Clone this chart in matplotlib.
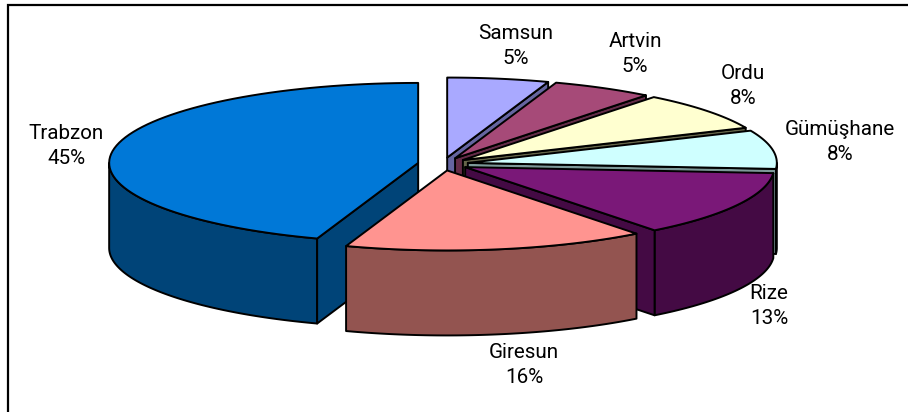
import numpy as np
import matplotlib
matplotlib.use("Agg")
import matplotlib.pyplot as plt

plt.rcParams["font.family"] = ["Roboto", "Liberation Sans", "DejaVu Sans"]

# clockwise from 12 o'clock
names = ["Samsun", "Artvin", "Ordu", "Gümüşhane", "Rize", "Giresun", "Trabzon"]
shares = [5.3, 5.3, 7.8, 7.8, 13.3, 15.8, 44.7]
labels = ["5%", "5%", "8%", "8%", "13%", "16%", "45%"]
top_colors = ["#A9A9FF", "#A64A78", "#FFFFD0", "#CFFFFF", "#7A1878", "#FF9490", "#0078D7"]
side_colors = ["#6565A0", "#642C48", "#66664A", "#7D9999", "#440A44", "#935450", "#004478"]
label_xy = [(516, 46), (635, 54), (743, 86), (840, 142), (769, 306), (524, 365), (66, 146)]

# pie shape in pixels
cx, cy = 443, 164
a, b = 309, 80
depth = 85
explode = 0.0815


def rim(x0, y0, t0, t1):
    t = np.radians(np.linspace(t0, t1, 80))
    return x0 + a * np.sin(t), y0 - b * np.cos(t)


def poly(ax, xs, ys, color):
    ax.fill(xs, ys, facecolor=color, edgecolor="black", linewidth=1.4, joinstyle="round")


fig = plt.figure(figsize=(9.08, 4.12), dpi=100)
ax = fig.add_axes([0, 0, 1, 1])
ax.set_xlim(0, 908)
ax.set_ylim(412, 0)
ax.axis("off")

ends = np.cumsum(shares) * 3.6
starts = ends - np.array(shares) * 3.6

# back slices first, Trabzon and Giresun go over the others
for i in [0, 1, 2, 3, 4, 6, 5]:
    t0, t1 = starts[i], ends[i]
    mid = np.radians((t0 + t1) / 2)
    x0 = cx + explode * a * np.sin(mid)
    y0 = cy - explode * b * np.cos(mid)

    # outer wall, only the part facing the viewer
    w0, w1 = max(t0, 90), min(t1, 270)
    if w0 < w1:
        xs, ys = rim(x0, y0, w0, w1)
        poly(ax, np.r_[xs, xs[::-1]], np.r_[ys, ys[::-1] + depth], side_colors[i])

    # cut face
    edge = t0 if names[i] == "Trabzon" else t1
    if names[i] != "Giresun":
        ex, ey = rim(x0, y0, edge, edge)
        poly(ax, [x0, ex[0], ex[0], x0], [y0, ey[0], ey[0] + depth, y0 + depth], side_colors[i])

    xs, ys = rim(x0, y0, t0, t1)
    poly(ax, np.r_[x0, xs], np.r_[y0, ys], top_colors[i])

for name, lab, (lx, ly) in zip(names, labels, label_xy):
    ax.text(lx, ly, name + "\n" + lab, ha="center", va="center", fontsize=14.9,
            linespacing=1.42, color="black", fontweight="normal")

# chart frame, cut off by the image
ax.plot([8, 8, 908], [412, 5, 5], color="black", linewidth=1.6, solid_joinstyle="miter")

fig.savefig("out.png", dpi=100)
